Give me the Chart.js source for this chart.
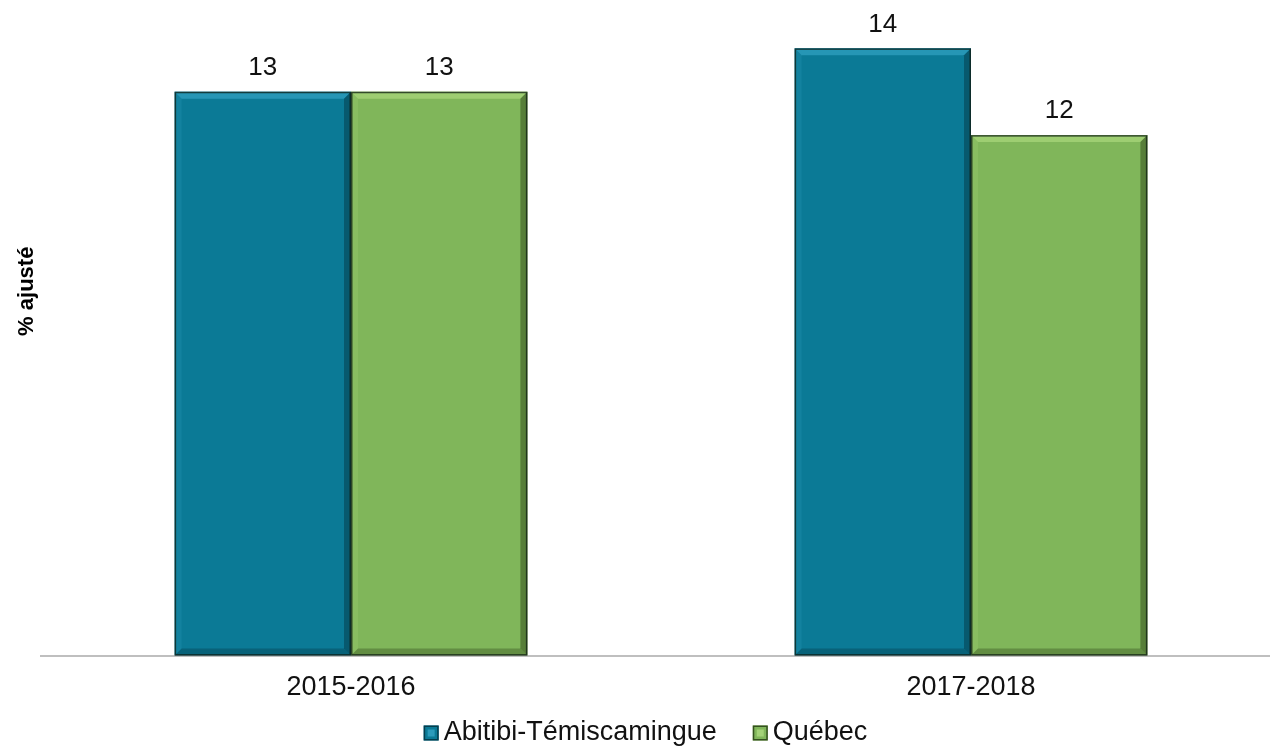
<!DOCTYPE html>
<html>
<head>
<meta charset="utf-8">
<script src="https://cdn.jsdelivr.net/npm/chart.js@4.4.1/dist/chart.umd.min.js"></script>
<style>
  html, body { margin: 0; padding: 0; background: #fff; overflow: hidden; }
  #wrap { width: 1281px; height: 749px; }
</style>
</head>
<body>
<div id="wrap"><canvas id="myChart" width="1281" height="749"></canvas></div>
<script>
// data
var periodes = ["2015-2016", "2017-2018"];
var abitibi = [13, 14];
var quebec = [13, 12];
var series = ["Abitibi-Témiscamingue", "Québec"];

var couleurs = ["#0B7A96", "#80B65A"];
var clairs = ["#2C9BBB", "#A3D277"];
var foncés = ["#053E4E", "#34501F"];
var police = "'Liberation Sans', Arial, sans-serif";

// bevel look on the bars + value labels
var bevel = {
  id: "bevel",
  afterDatasetsDraw: function(chart){
    var ctx = chart.ctx;
    chart.data.datasets.forEach(function(ds, i){
      chart.getDatasetMeta(i).data.forEach(function(bar, j){
        var l = bar.x - bar.width/2, r = bar.x + bar.width/2;
        var t = bar.y, b = bar.base, e = 7;
        ctx.save();
        // top
        ctx.fillStyle = clairs[i];
        ctx.globalAlpha = 0.85;
        ctx.beginPath();
        ctx.moveTo(l, t); ctx.lineTo(r, t); ctx.lineTo(r-e, t+e); ctx.lineTo(l+e, t+e);
        ctx.closePath(); ctx.fill();
        // left
        ctx.globalAlpha = 0.25;
        ctx.beginPath();
        ctx.moveTo(l, t); ctx.lineTo(l+e, t+e); ctx.lineTo(l+e, b-e); ctx.lineTo(l, b);
        ctx.closePath(); ctx.fill();
        // right and bottom
        ctx.fillStyle = foncés[i];
        ctx.globalAlpha = 0.55;
        ctx.beginPath();
        ctx.moveTo(r, t); ctx.lineTo(r, b); ctx.lineTo(r-e, b-e); ctx.lineTo(r-e, t+e);
        ctx.closePath(); ctx.fill();
        ctx.globalAlpha = 0.4;
        ctx.beginPath();
        ctx.moveTo(l, b); ctx.lineTo(r, b); ctx.lineTo(r-e, b-e); ctx.lineTo(l+e, b-e);
        ctx.closePath(); ctx.fill();
        ctx.globalAlpha = 1;
        ctx.strokeStyle = "rgba(15,30,20,0.75)";
        ctx.lineWidth = 1.5;
        ctx.strokeRect(l+0.75, t+0.75, bar.width-1.5, b-t-1.5);
        // value label
        ctx.fillStyle = "#111";
        ctx.font = "26px " + police;
        ctx.textAlign = "center";
        ctx.textBaseline = "middle";
        ctx.fillText(ds.data[j], bar.x, t - 24);
        ctx.restore();
      });
    });
  }
};

// y axis title and legend
var textes = {
  id: "textes",
  afterDraw: function(chart){
    var ctx = chart.ctx, a = chart.chartArea;
    ctx.save();
    ctx.translate(27, a.top + a.height*0.44);
    ctx.rotate(-Math.PI/2);
    ctx.fillStyle = "#000";
    ctx.font = "bold 22px " + police;
    ctx.textAlign = "center";
    ctx.textBaseline = "middle";
    ctx.fillText("% ajusté", 0, 0);
    ctx.restore();

    // legend
    ctx.save();
    ctx.font = "27px " + police;
    ctx.textBaseline = "middle";
    var box = 15, gap = 5, sep = 36;
    var total = 0;
    series.forEach(function(s, i){
      total += box + gap + ctx.measureText(s).width + (i ? 0 : sep);
    });
    var x = chart.width/2 + 5 - total/2, y = 733;
    series.forEach(function(s, i){
      ctx.fillStyle = couleurs[i];
      ctx.fillRect(x, y - box/2, box, box);
      ctx.strokeStyle = foncés[i];
      ctx.lineWidth = 1.5;
      ctx.strokeRect(x + 0.75, y - box/2 + 0.75, box - 1.5, box - 1.5);
      ctx.fillStyle = clairs[i];
      ctx.fillRect(x + 4, y - box/2 + 4, box - 8, box - 8);
      ctx.fillStyle = "#111";
      ctx.fillText(s, x + box + gap, y);
      x += box + gap + ctx.measureText(s).width + sep;
    });
    ctx.restore();
  }
};

var chart = new Chart(document.getElementById("myChart").getContext("2d"), {
  type: "bar",
  data: {
    labels: periodes,
    datasets: [
      { label: series[0], data: abitibi, backgroundColor: couleurs[0], borderWidth: 0 },
      { label: series[1], data: quebec, backgroundColor: couleurs[1], borderWidth: 0 }
    ]
  },
  options: {
    responsive: false,
    animation: false,
    categoryPercentage: 0.569,
    barPercentage: 1,
    layout: { padding: { left: 41, top: 5, right: 0, bottom: 29 } },
    plugins: {
      legend: { display: false },
      tooltip: { enabled: false }
    },
    scales: {
      x: {
        grid: { display: false, drawTicks: false },
        border: { color: "#BFBFBF", width: 2 },
        ticks: { color: "#111", padding: 16, font: { size: 27, family: police } }
      },
      y: {
        min: 0, max: 15,
        display: false
      }
    }
  },
  plugins: [bevel, textes]
});
</script>
</body>
</html>
